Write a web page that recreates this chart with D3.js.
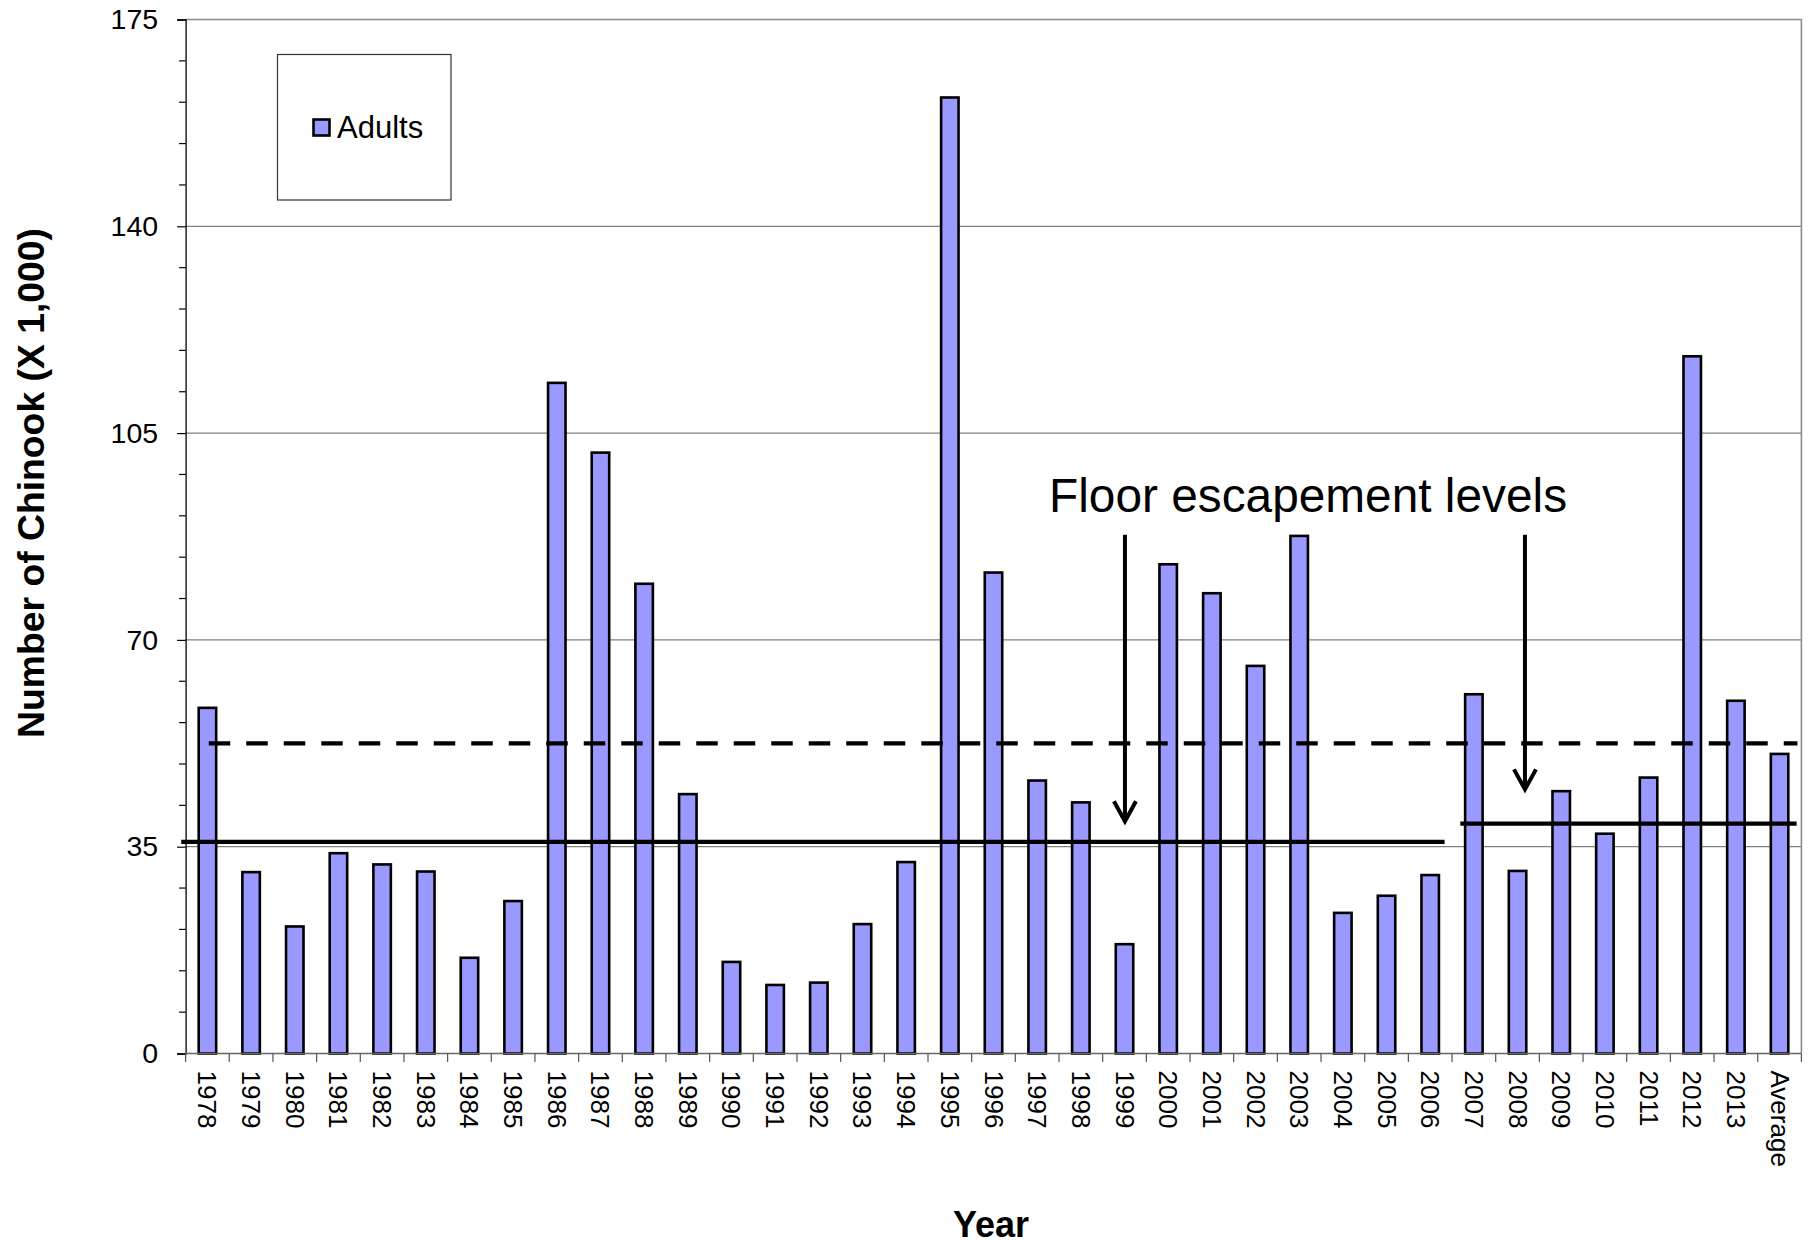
<!DOCTYPE html>
<html>
<head>
<meta charset="utf-8">
<script src="https://cdn.jsdelivr.net/npm/d3@7/dist/d3.min.js"></script>
<style>
  body { margin: 0; background: #fff; }
  text { font-family: "Liberation Sans", Arial, sans-serif; fill: #000; }
</style>
</head>
<body>
<script>
// categories
var years = ["1978","1979","1980","1981","1982","1983","1984","1985","1986","1987",
  "1988","1989","1990","1991","1992","1993","1994","1995","1996","1997","1998","1999",
  "2000","2001","2002","2003","2004","2005","2006","2007","2008","2009","2010","2011",
  "2012","2013","Average"];

// adult Chinook (x 1,000)
var adults = [58.5, 30.7, 21.5, 33.9, 32.0, 30.8, 16.2, 25.8, 113.5, 101.7,
  79.5, 43.9, 15.5, 11.6, 12.0, 21.9, 32.4, 161.8, 81.4, 46.2, 42.5, 18.5,
  82.8, 77.9, 65.6, 87.6, 23.8, 26.7, 30.2, 60.8, 30.9, 44.4, 37.2, 46.7,
  118.0, 59.7, 50.7];

var yTicks = [0, 35, 70, 105, 140, 175];

// floor escapement levels (x 1,000)
var floorOld = 35.8;   // through 2006
var floorNew = 38.9;   // from 2007
var dashedLevel = 52.5;

//Define chart area
var W = 1814, H = 1245;
var pLeft = 185.6, pRight = 1801.4, pTop = 19.5, pBottom = 1053.5;

var svg = d3.select("body").append("svg")
    .attr("width", W)
    .attr("height", H);

//Scales
var x = d3.scaleBand()
    .domain(years)
    .range([pLeft, pRight])
    .paddingInner(0.6)
    .paddingOuter(0.3);

// category index scale for boundaries / annotation extents
var xi = d3.scaleLinear().domain([0, years.length]).range([pLeft, pRight]);

var y = d3.scaleLinear().domain([0, 175]).range([pBottom, pTop]);

//Gridlines
svg.append("g")
  .selectAll("line")
  .data(yTicks.filter(function(d) { return d > 0; }))
  .enter().append("line")
    .attr("x1", pLeft).attr("x2", pRight)
    .attr("y1", function(d) { return y(d); })
    .attr("y2", function(d) { return y(d); })
    .attr("stroke", "#808080")
    .attr("stroke-width", 1.2);

// plot border (top + right)
svg.append("path")
    .attr("d", "M" + pLeft + "," + pTop + "H" + pRight + "V" + pBottom)
    .attr("fill", "none")
    .attr("stroke", "#8c8c8c")
    .attr("stroke-width", 1.6);

//Y axis
var yAxis = d3.axisLeft(y)
    .tickValues(yTicks)
    .tickSize(8.5)
    .tickPadding(19);

var gy = svg.append("g")
    .attr("transform", "translate(" + pLeft + ",0)")
    .call(yAxis);
gy.select(".domain").attr("stroke", "#000").attr("stroke-width", 1.3);
gy.selectAll(".tick line").attr("stroke", "#000").attr("stroke-width", 1.2);
gy.selectAll("text")
    .style("font-size", "28.5px")
    .attr("fill", "#000");

// minor ticks every 7
svg.append("g")
  .selectAll("line")
  .data(d3.range(0, 176, 7).filter(function(d) { return d % 35 !== 0; }))
  .enter().append("line")
    .attr("x1", pLeft - 6.5).attr("x2", pLeft)
    .attr("y1", function(d) { return y(d); })
    .attr("y2", function(d) { return y(d); })
    .attr("stroke", "#000")
    .attr("stroke-width", 1.2);

//Bars
svg.append("g")
  .selectAll("rect")
  .data(adults)
  .enter().append("rect")
    .attr("x", function(d, i) { return x(years[i]); })
    .attr("y", function(d) { return y(d); })
    .attr("width", x.bandwidth())
    .attr("height", function(d) { return pBottom - y(d); })
    .attr("fill", "#9999ff")
    .attr("stroke", "#000")
    .attr("stroke-width", 2.6);

//X axis
svg.append("line")
    .attr("x1", pLeft).attr("x2", pRight)
    .attr("y1", pBottom).attr("y2", pBottom)
    .attr("stroke", "#666")
    .attr("stroke-width", 1.5);

svg.append("g")
  .selectAll("line")
  .data(d3.range(0, years.length + 1))
  .enter().append("line")
    .attr("x1", function(d) { return xi(d); })
    .attr("x2", function(d) { return xi(d); })
    .attr("y1", pBottom).attr("y2", pBottom + 8.5)
    .attr("stroke", "#555")
    .attr("stroke-width", 1.2);

var xAxis = d3.axisBottom(x).tickSize(0).tickPadding(0);
var gx = svg.append("g")
    .attr("transform", "translate(0," + pBottom + ")")
    .call(xAxis);
gx.select(".domain").remove();
gx.selectAll("text")
    .style("font-size", "26px")
    .attr("text-anchor", "start")
    .attr("dy", null)
    .attr("y", 0)
    .attr("dominant-baseline", "central")
    .attr("transform", "translate(0,17) rotate(90)");

//Floor escapement lines
svg.append("line")
    .attr("x1", xi(0.53)).attr("x2", xi(36.91))
    .attr("y1", y(dashedLevel)).attr("y2", y(dashedLevel))
    .attr("stroke", "#000")
    .attr("stroke-width", 4.3)
    .attr("stroke-dasharray", "21.5,16");

svg.append("line")
    .attr("x1", xi(-0.1)).attr("x2", xi(28.83))
    .attr("y1", y(floorOld)).attr("y2", y(floorOld))
    .attr("stroke", "#000")
    .attr("stroke-width", 4.3);

svg.append("line")
    .attr("x1", xi(29.19)).attr("x2", xi(36.89))
    .attr("y1", y(floorNew)).attr("y2", y(floorNew))
    .attr("stroke", "#000")
    .attr("stroke-width", 4.3);

//Annotation
svg.append("text")
    .attr("x", 1049)
    .attr("y", 512)
    .style("font-size", "47.8px")
    .text("Floor escapement levels");

var arrows = [
  { at: 21.51, from: 87.8, to: 39.3 },
  { at: 30.67, from: 87.8, to: 44.7 }
];
var ga = svg.append("g");
ga.selectAll("line")
  .data(arrows)
  .enter().append("line")
    .attr("x1", function(d) { return xi(d.at); })
    .attr("x2", function(d) { return xi(d.at); })
    .attr("y1", function(d) { return y(d.from); })
    .attr("y2", function(d) { return y(d.to) - 2; })
    .attr("stroke", "#000")
    .attr("stroke-width", 4);
ga.selectAll("path")
  .data(arrows)
  .enter().append("path")
    .attr("d", function(d) {
      var cx = xi(d.at), ty = y(d.to);
      return "M" + (cx - 11) + "," + (ty - 20) + "L" + cx + "," + ty + "L" + (cx + 11) + "," + (ty - 20);
    })
    .attr("fill", "none")
    .attr("stroke", "#000")
    .attr("stroke-width", 4);

//Legend
var legend = svg.append("g");
legend.append("rect")
    .attr("x", 277.5).attr("y", 54.5)
    .attr("width", 173.5).attr("height", 145.5)
    .attr("fill", "#fff")
    .attr("stroke", "#333")
    .attr("stroke-width", 1.2);
legend.append("rect")
    .attr("x", 313.5).attr("y", 119.5)
    .attr("width", 16).attr("height", 16)
    .attr("fill", "#9999ff")
    .attr("stroke", "#000")
    .attr("stroke-width", 2.6);
legend.append("text")
    .attr("x", 337)
    .attr("y", 138)
    .style("font-size", "31px")
    .text("Adults");

//Axis titles
svg.append("text")
    .attr("transform", "translate(44,483) rotate(-90)")
    .attr("text-anchor", "middle")
    .style("font-size", "37.3px")
    .style("font-weight", "bold")
    .text("Number of Chinook (X 1,000)");

svg.append("text")
    .attr("x", 991)
    .attr("y", 1237)
    .attr("text-anchor", "middle")
    .style("font-size", "36px")
    .style("font-weight", "bold")
    .text("Year");
</script>
</body>
</html>
